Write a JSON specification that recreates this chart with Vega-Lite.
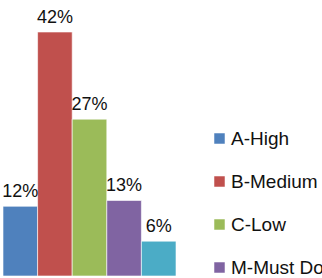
{
  "$schema": "https://vega.github.io/schema/vega-lite/v6.json",
  "width": 173,
  "height": 244,
  "autosize": "none",
  "padding": {"left": 3, "top": 32, "right": 146, "bottom": 2},
  "background": "white",
  "config": {"view": {"stroke": null}, "font": "Liberation Sans"},
  "data": {
    "values": [
      {"priority": "A-High", "pct": 0.12},
      {"priority": "B-Medium", "pct": 0.42},
      {"priority": "C-Low", "pct": 0.27},
      {"priority": "M-Must Do", "pct": 0.13},
      {"priority": "N-Not Needed", "pct": 0.06}
    ]
  },
  "encoding": {
    "x": {
      "field": "priority",
      "type": "nominal",
      "sort": null,
      "scale": {"paddingInner": 0, "paddingOuter": 0},
      "axis": null
    },
    "y": {
      "field": "pct",
      "type": "quantitative",
      "scale": {"domain": [0, 0.42], "nice": false, "zero": true},
      "axis": null
    }
  },
  "layer": [
    {
      "mark": {"type": "bar", "stroke": "white", "strokeWidth": 0.6},
      "encoding": {
        "color": {
          "field": "priority",
          "type": "nominal",
          "sort": null,
          "scale": {"range": ["#4F81BD", "#C0504D", "#9BBB59", "#8064A2", "#4BACC6"]},
          "legend": {
            "title": null,
            "orient": "none",
            "legendX": 207,
            "legendY": 97,
            "symbolType": "square",
            "symbolSize": 110,
            "symbolStrokeWidth": 0,
            "labelFontSize": 19,
            "labelColor": "#111111",
            "labelFont": "Liberation Sans",
            "labelOffset": 2,
            "rowPadding": 23,
            "labelLimit": 300
          }
        }
      }
    },
    {
      "mark": {"type": "text", "baseline": "alphabetic", "dy": -9, "fontSize": 18, "color": "#111111"},
      "encoding": {
        "text": {"field": "pct", "type": "quantitative", "format": ".0%"}
      }
    }
  ]
}
